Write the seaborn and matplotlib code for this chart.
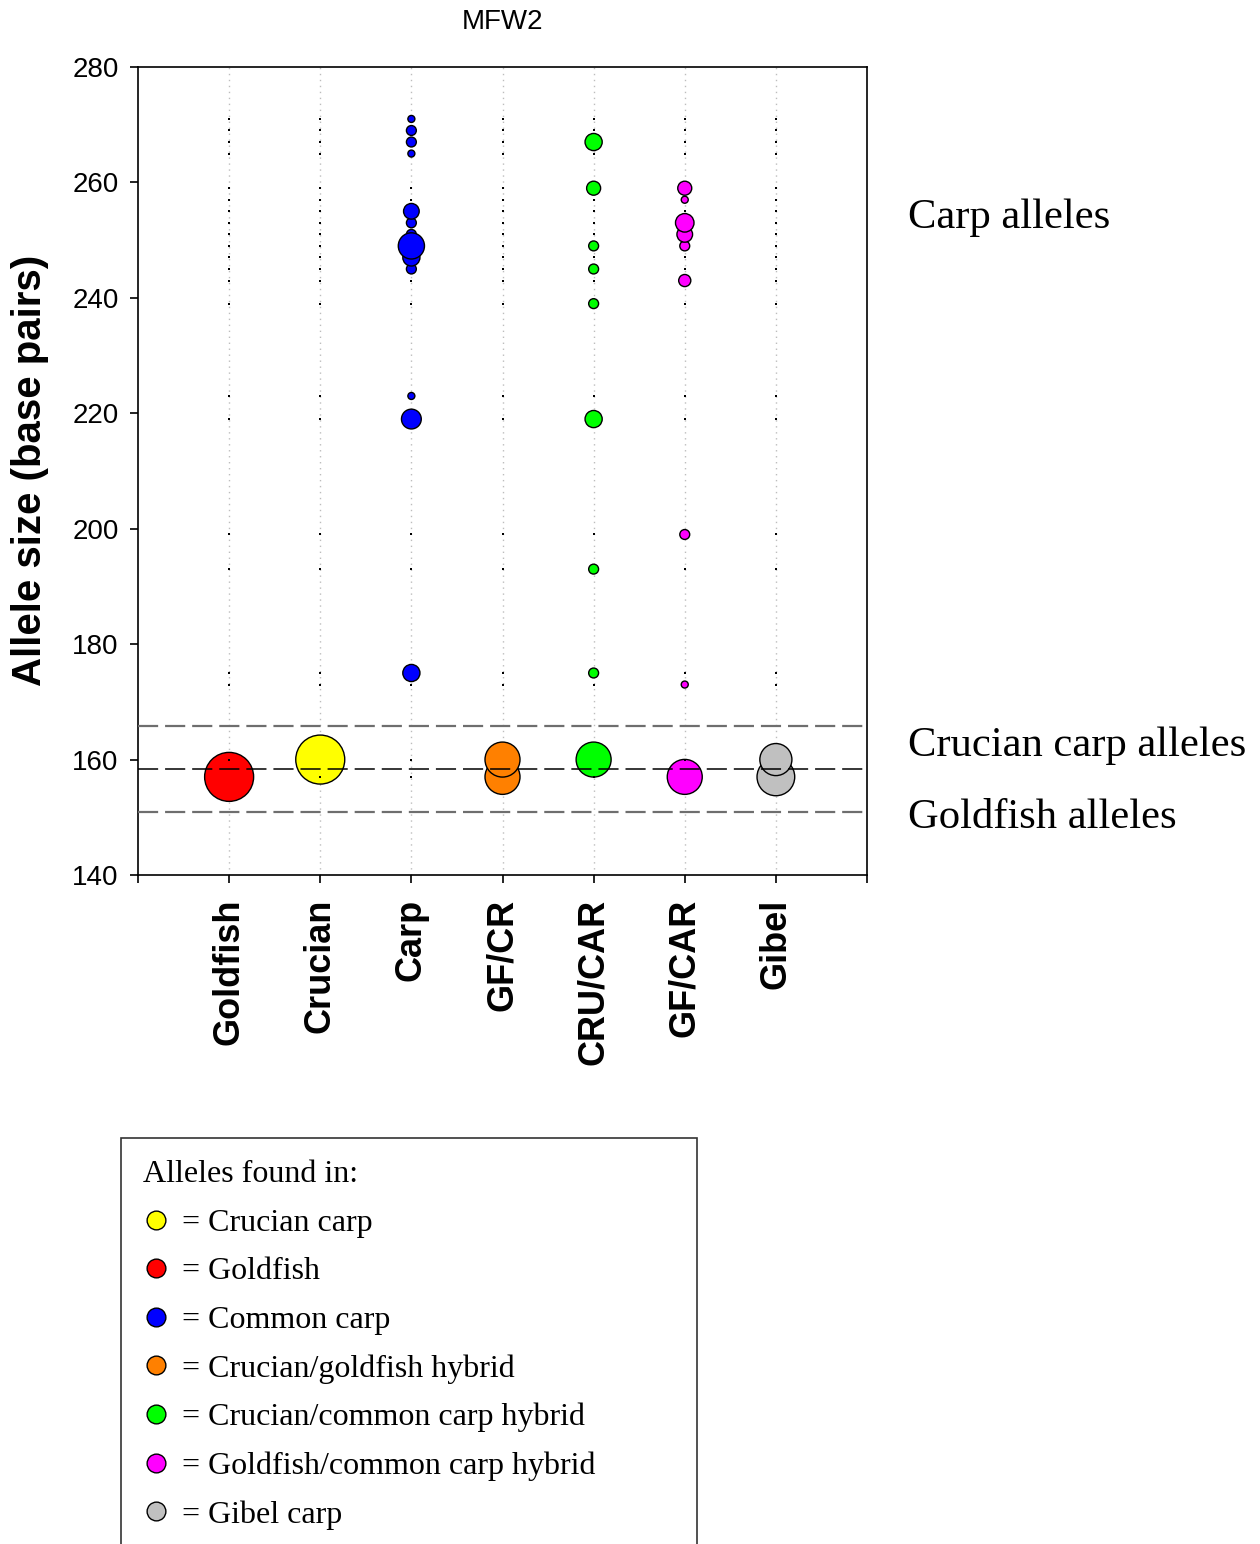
import numpy as np
import pandas as pd
import matplotlib
matplotlib.use("Agg")
import matplotlib.pyplot as plt
from matplotlib.lines import Line2D
import seaborn as sns

# ---------------- data ----------------
categories = ["Goldfish", "Crucian", "Carp", "GF/CR", "CRU/CAR", "GF/CAR", "Gibel"]
colors = ["#FF0000", "#FFFF00", "#0000FF", "#FF8000", "#00FF00", "#FF00FF", "#C0C0C0"]

goldfish_alleles = [157]
goldfish_freq = [49]
crucian_alleles = [160]
crucian_freq = [49]
carp_alleles = [175, 219, 223, 245, 247, 251, 253, 255, 265, 267, 269, 271, 249]
carp_freq = [6, 8, 1, 2, 6, 2, 2, 5, 1, 2, 2, 1, 14]
gfcr_alleles = [157, 160]
gfcr_freq = [25, 25]
crucar_alleles = [160, 175, 193, 219, 239, 245, 249, 259, 267]
crucar_freq = [25, 2, 2, 6, 2, 2, 2, 4, 6]
gfcar_alleles = [157, 173, 199, 243, 249, 251, 253, 257, 259]
gfcar_freq = [25, 1, 2, 3, 2, 5, 7, 1, 4]
gibel_alleles = [157, 160]
gibel_freq = [29, 21]

boundary_lines = [165.8, 158.3, 151.0]
region_labels = ["Carp alleles", "Crucian carp alleles", "Goldfish alleles"]

legend_labels = ["= Crucian carp", "= Goldfish", "= Common carp",
                 "= Crucian/goldfish hybrid", "= Crucian/common carp hybrid",
                 "= Goldfish/common carp hybrid", "= Gibel carp"]
legend_colors = ["#FFFF00", "#FF0000", "#0000FF", "#FF8000", "#00FF00", "#FF00FF", "#C0C0C0"]

all_alleles = [goldfish_alleles, crucian_alleles, carp_alleles, gfcr_alleles,
               crucar_alleles, gfcar_alleles, gibel_alleles]
all_freq = [goldfish_freq, crucian_freq, carp_freq, gfcr_freq,
            crucar_freq, gfcar_freq, gibel_freq]

rows = []
for cat, al, fr in zip(categories, all_alleles, all_freq):
    for a, f in zip(al, fr):
        rows.append({"group": cat, "allele": a, "freq": f})
df = pd.DataFrame(rows)
pos_map = {c: i for i, c in enumerate(categories)}
df["pos"] = df["group"].map(pos_map)

union = sorted(set(df["allele"]))
dot_rows = []
for cat, al in zip(categories, all_alleles):
    for a in union:
        if a not in al:
            dot_rows.append({"group": cat, "allele": a})
dots = pd.DataFrame(dot_rows)
dots["pos"] = dots["group"].map(pos_map)

# ---------------- figure ----------------
sns.set_theme(style="white")
plt.rcParams["font.family"] = ["Liberation Sans", "DejaVu Sans"]
plt.rcParams["lines.scale_dashes"] = False
for k in ["text.color", "axes.labelcolor", "xtick.color", "ytick.color", "axes.edgecolor"]:
    plt.rcParams[k] = "black"

W, H = 1260, 1544
fig = plt.figure(figsize=(W / 100, H / 100), dpi=100)
fig.patch.set_facecolor("white")
ax = fig.add_axes([138 / W, 1 - 875 / H, (867 - 138) / W, (875 - 67) / H])
ax.set_facecolor("white")

# dotted category guides
for i in range(len(categories)):
    ax.axvline(i, color="#BDBDBD", lw=1.0, dashes=(1.0, 3.3), zorder=0)

pt_per_px = 0.72
base = (7 * pt_per_px) ** 2
sns.scatterplot(data=df, x="pos", y="allele", hue="group", palette=dict(zip(categories, colors)),
                size="freq", sizes=(base * 1, base * 49), size_norm=(1, 49),
                edgecolor="black", linewidth=1.0, legend=False, ax=ax, zorder=3, alpha=1)

sns.scatterplot(data=dots, x="pos", y="allele", color="black", marker="s", s=2.0,
                linewidth=0, legend=False, ax=ax, zorder=4)

line_colors = ["#6E6E6E", "#000000", "#6E6E6E"]
line_widths = [1.6, 1.1, 1.6]
for yv, c, lw in zip(boundary_lines, line_colors, line_widths):
    ax.axhline(yv, color=c, lw=lw, dashes=(14.5, 5.0), zorder=5)

ax.set_xlim(-1, len(categories))
ax.set_ylim(140, 280)
ax.set_xticks(range(-1, len(categories) + 1))
ax.set_xticklabels([""] + categories + [""], rotation=90, fontsize=26, fontweight="bold",
                   va="top", ha="center")
ax.set_yticks(range(140, 281, 20))
ax.set_yticklabels([str(v) for v in range(140, 281, 20)], fontsize=20)
ax.tick_params(axis="x", direction="out", length=6, width=1.2, pad=11, color="black", bottom=True)
ax.tick_params(axis="y", direction="out", length=6, width=1.2, pad=8, color="black", left=True)
ax.set_xlabel("")
ax.set_ylabel("")
for s in ax.spines.values():
    s.set_color("black")
    s.set_linewidth(1.2)
    s.set_visible(True)
ax.grid(False)

fig.text(30 / W, 1 - 470 / H, "Allele size (base pairs)", rotation=90, ha="center", va="center",
         fontsize=29, fontweight="bold")
fig.text(502.5 / W, 1 - 22 / H, "MFW2", ha="center", va="center", fontsize=20)

serif = ["Liberation Serif", "DejaVu Serif"]
for lab, yc in zip(region_labels, [218, 746, 818]):
    fig.text(908 / W, 1 - yc / H, lab, ha="left", va="center", fontsize=30.7, family=serif)

handles = [Line2D([], [], ls="", marker="o", markersize=13.5, markerfacecolor=c,
                  markeredgecolor="black", markeredgewidth=1.0) for c in legend_colors]
leg = fig.legend(handles, legend_labels, loc="upper left",
                 bbox_to_anchor=(121 / W, 1 - 1138 / H - 0.5, (697 - 121) / W, 0.5),
                 mode="expand", borderaxespad=0, frameon=True, fancybox=False,
                 title="Alleles found in:", alignment="left",
                 prop={"family": serif, "size": 23},
                 title_fontproperties={"family": serif, "size": 23},
                 handlelength=0.76, handletextpad=0.44, labelspacing=0.6,
                 borderpad=0.7)
leg.get_frame().set_edgecolor("black")
leg.get_frame().set_linewidth(1.2)

fig.savefig("out.png", dpi=100, facecolor="white")
